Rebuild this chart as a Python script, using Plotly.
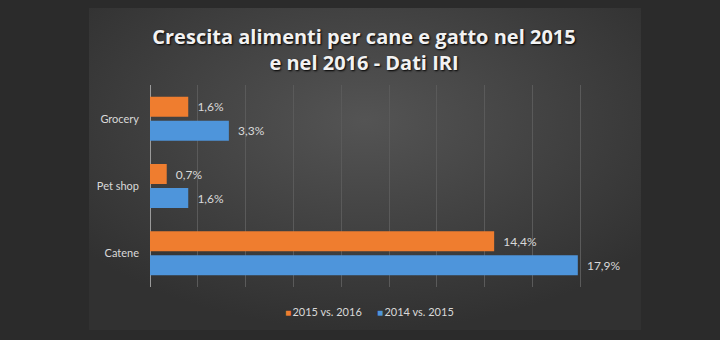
import base64
import plotly.graph_objects as go

# Growth of dog & cat food sales by channel (IRI data)
channels = ["Grocery", "Pet shop", "Catene"]
growth_2016 = [1.6, 0.7, 14.4]   # 2015 vs. 2016
growth_2015 = [3.3, 1.6, 17.9]   # 2014 vs. 2015
series_names = ["2015 vs. 2016", "2014 vs. 2015"]
x_ticks = [0, 2, 4, 6, 8, 10, 12, 14, 16, 18, 20]

ORANGE = "#EF7D2F"
BLUE = "#4E95DB"
LABEL = "#D9D9D9"
FONT = "Lato, 'Open Sans', sans-serif"
TITLE_FONT = "'Open Sans', sans-serif"

# Radial-gradient panel drawn behind the chart
svg = (
    '<svg xmlns="http://www.w3.org/2000/svg" width="552" height="322">'
    '<defs><radialGradient id="g" cx="50%" cy="35%" r="65%">'
    '<stop offset="0%" stop-color="#545454"/>'
    '<stop offset="100%" stop-color="#313131"/>'
    '</radialGradient></defs>'
    '<rect width="552" height="322" fill="url(#g)"/></svg>'
)
panel_src = "data:image/svg+xml;base64," + base64.b64encode(svg.encode()).decode()

W, H = 720, 340
L, R, T, B = 150, 92, 85, 53
pw, ph = W - L - R, H - T - B

fig = go.Figure()
colors = [ORANGE, BLUE]
for name, vals, col in [(series_names[0], growth_2016, ORANGE),
                        (series_names[1], growth_2015, BLUE)]:
    fig.add_trace(go.Bar(
        y=channels, x=vals, name=name, orientation="h",
        marker=dict(color=col, line=dict(width=0)),
        texttemplate="\u00a0\u00a0%{x:.1f}%", textposition="outside",
        textfont=dict(color=LABEL, size=12, family=FONT),
        cliponaxis=False, showlegend=False,
    ))

fig.add_layout_image(dict(
    source=panel_src, xref="paper", yref="paper",
    x=(89 - L) / pw, y=(H - B - 8) / ph,
    sizex=552 / pw, sizey=322 / ph,
    sizing="stretch", xanchor="left", yanchor="top", layer="below",
))

# Legend row: small coloured square followed by the series name
legend_x = [(283 - L) / pw, (375 - L) / pw]
for name, col, lx in zip(series_names, colors, legend_x):
    fig.add_annotation(
        xref="paper", yref="paper", x=lx, y=-0.12,
        xanchor="left", yanchor="middle", showarrow=False,
        text=f"<span style='color:{col};font-size:10px'>\u25a0</span>\u2009{name}",
        font=dict(color=LABEL, size=11, family=FONT),
    )

fig.update_layout(
    width=W, height=H,
    margin=dict(l=L, r=R, t=T, b=B),
    paper_bgcolor="#2B2B2B",
    plot_bgcolor="rgba(0,0,0,0)",
    separators=",.",
    barmode="group", bargap=0.287, bargroupgap=1 / 6,
    title=dict(
        text="Crescita alimenti per cane e gatto nel 2015<br>e nel 2016 - Dati IRI",
        x=(364 - L) / pw, xref="paper", xanchor="center",
        y=1 - 43.5 / H, yref="container", yanchor="middle",
        font=dict(family=TITLE_FONT, size=20, color="#F2F2F2", weight="bold",
                  shadow="1px 1px 2px #000000"),
    ),
    xaxis=dict(
        range=[0, 20], tickvals=x_ticks, showticklabels=False,
        showgrid=True, gridcolor="#5A5A5A", gridwidth=1,
        zeroline=True, zerolinecolor="#9A9A9A", zerolinewidth=1,
        fixedrange=True,
    ),
    yaxis=dict(
        autorange="reversed", showgrid=False, zeroline=False,
        tickfont=dict(color=LABEL, size=11, family=FONT),
        ticklabelstandoff=10, fixedrange=True,
    ),
    showlegend=False,
)

fig.write_html("out.html")
